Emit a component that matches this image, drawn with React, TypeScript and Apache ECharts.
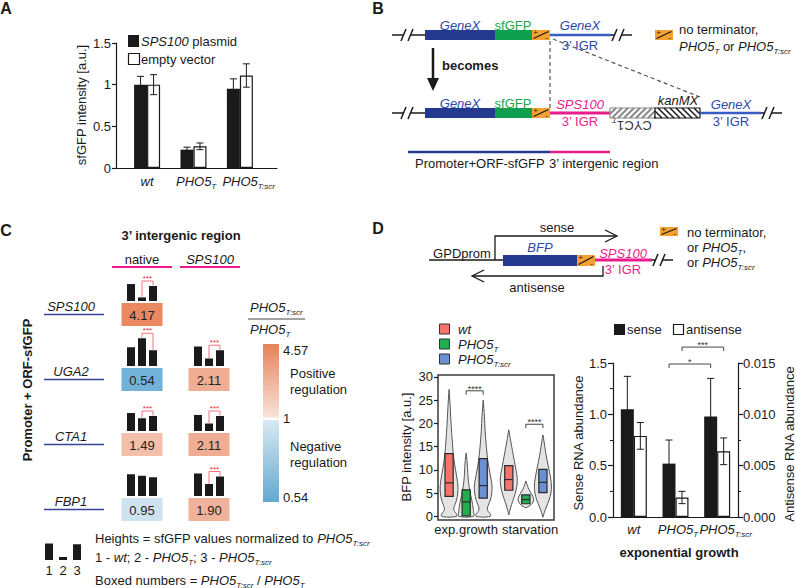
import React, { useEffect, useRef } from 'react';
import * as echarts from 'echarts';

const FF = '"Liberation Sans", Arial, Helvetica, sans-serif';
const INK = '#1a1a1a';
const BLUE_BOX = '#253a8f';
const BLUE_TXT = '#2c4aa8';
const BLUE_LINE = '#3a5cc2';
const GREEN_BOX = '#0f9e4f';
const GREEN_TXT = '#19a64c';
const PINK = '#ec1b8b';
const ORANGE = '#f5a132';
const STAR_RED = '#e8262f';
const BRACKET = '#f5737c';

// ---------------- Panel A ----------------
const aLabels = ['wt', 'PHO5T', 'PHO5T:scr'];
const aPositions = [1, 2, 3];
const aPlasmid = [1.0, 0.22, 0.95];
const aPlasmidErr = [0.1, 0.03, 0.12];
const aEmpty = [1.0, 0.26, 1.11];
const aEmptyErr = [0.12, 0.04, 0.14];

// ---------------- Panel C ----------------
const cColumns = ['native', 'SPS100'];
const cRows = ['SPS100', 'UGA2', 'CTA1', 'FBP1'];
const cCellCol = [0, 0, 1, 0, 1, 0, 1];
const cCellRow = [0, 1, 1, 2, 2, 3, 3];
const cRatio = [4.17, 0.54, 2.11, 1.49, 2.11, 0.95, 1.9];
const cHeightWt = [1.13, 1.25, 1.3, 1.2, 1.07, 1.45, 1.5];
const cHeightT = [0.24, 1.85, 0.5, 0.85, 0.5, 1.35, 0.8];
const cHeightScr = [1.0, 1.05, 1.05, 1.0, 1.0, 1.25, 1.3];
const cSignificant = [1, 1, 1, 1, 1, 0, 1];
const cScale = [0.54, 1, 4.57];
const cLegendHeights = [1.1, 0.2, 1.05];

// ---------------- Panel D (violins) ----------------
const dStrains = ['wt', 'PHO5T', 'PHO5T:scr'];
const dStrainColors = ['#f4746c', '#22ae4c', '#6b91d2'];
const dConditions = ['exp.growth', 'starvation'];
const dConditionPositions = [2, 5.75];
const dPositions = [1, 2, 3, 4.5, 5.5, 6.5];
const dQ1 = [4.3, 0.1, 3.9, 5.6, 2.7, 5.1];
const dMedian = [7.2, 3.1, 6.6, 7.9, 3.6, 7.3];
const dQ3 = [13.5, 5.7, 12.4, 10.9, 4.6, 10.1];
const dViolinWtExp = [[-0.2, 0], [0, 0.44], [0.5, 0.44], [1.0, 0.33], [1.5, 0.27], [2.3, 0.32], [3.5, 0.44], [5, 0.51], [6.5, 0.52], [8, 0.47], [10, 0.38], [12, 0.29], [14, 0.23], [16, 0.19], [18, 0.15], [21, 0.1], [24, 0.06], [27.3, 0]];
const dViolinTExp = [[-0.2, 0], [0, 0.45], [0.6, 0.45], [1.5, 0.42], [2.5, 0.38], [3.5, 0.33], [4.5, 0.27], [5.8, 0.2], [7, 0.15], [8.5, 0.11], [10.5, 0.08], [12, 0.05], [13.6, 0]];
const dViolinScrExp = [[-0.2, 0], [0, 0.42], [0.5, 0.42], [1.0, 0.3], [1.6, 0.24], [2.4, 0.3], [3.5, 0.42], [5, 0.5], [6.5, 0.52], [8, 0.46], [10, 0.36], [12, 0.27], [14, 0.21], [16, 0.16], [18.5, 0.11], [21.5, 0.07], [25, 0]];
const dViolinWtStarv = [[0.3, 0], [1.2, 0.06], [2.5, 0.16], [4, 0.3], [5.5, 0.42], [7, 0.49], [8.5, 0.49], [10, 0.42], [12, 0.32], [14, 0.22], [16, 0.12], [17.5, 0.05], [18.6, 0]];
const dViolinTStarv = [[1.8, 0], [2.2, 0.2], [2.8, 0.38], [3.5, 0.46], [4.2, 0.42], [5, 0.3], [5.8, 0.18], [6.6, 0.09], [7.6, 0]];
const dViolinScrStarv = [[-0.2, 0], [0.8, 0.08], [2, 0.2], [3.5, 0.36], [5, 0.47], [6.5, 0.5], [8, 0.46], [10, 0.36], [12, 0.25], [14, 0.15], [16, 0.07], [17.5, 0]];
const dViolins = [dViolinWtExp, dViolinTExp, dViolinScrExp, dViolinWtStarv, dViolinTStarv, dViolinScrStarv];
const dYTicks = [0, 5, 10, 15, 20, 25, 30];
const dSigFrom = [2, 5.5];
const dSigTo = [3, 6.5];
const dSigLevel = [27.0, 19.8];
const dSigText = ['****', '****'];

// ---------------- Panel D (RNA) ----------------
const rnaLabels = ['wt', 'PHO5T', 'PHO5T:scr'];
const rnaSense = [1.05, 0.52, 0.98];
const rnaSenseErr = [0.32, 0.23, 0.37];
const rnaAnti = [0.0079, 0.0019, 0.0064];
const rnaAntiErr = [0.0013, 0.0006, 0.0013];
const rnaSigFrom = [1, 1];
const rnaSigTo = [2, 2];
const rnaSigLevel = [1.49, 1.655];
const rnaSigText = ['*', '***'];
const rnaSigSide = [-1, 1];

// ---------------- helpers ----------------
function mix(a: string, b: string, t: number) {
  const pa = [1, 3, 5].map((k) => parseInt(a.slice(k, k + 2), 16));
  const pb = [1, 3, 5].map((k) => parseInt(b.slice(k, k + 2), 16));
  const c = pa.map((v, k) => Math.round(v + (pb[k] - v) * Math.max(0, Math.min(1, t))));
  return 'rgb(' + c.join(',') + ')';
}
const POS_LOW = '#f8e3da';
const POS_HIGH = '#e8825a';
const NEG_LOW = '#d9e9f2';
const NEG_HIGH = '#72b2d8';
function ratioColor(r: number) {
  if (r >= cScale[1]) return mix(POS_LOW, POS_HIGH, Math.pow((r - cScale[1]) / (cScale[2] - cScale[1]), 0.5));
  return mix(NEG_LOW, NEG_HIGH, (cScale[1] - r) / (cScale[1] - cScale[0]));
}

function richName(name: string) {
  const m = name.match(/^PHO5(T.*)$/);
  if (m) return '{i|PHO5}{s|' + m[1] + '}';
  return '{i|' + name + '}';
}
// axis labels: the main "PHO5" part is centred on the tick, the subscript hangs to the right
function axisName(name: string) {
  const m = name.match(/^PHO5(T.*)$/);
  if (m) return '{' + (m[1].length > 1 ? 'pl' : 'ps') + '|PHO5}{s|' + m[1] + '}';
  return '{i|' + name + '}';
}
function axisRich(size: number) {
  const sub = Math.round(size * 0.62);
  const base = { fontStyle: 'italic', fontSize: size, fontFamily: FF, color: INK, lineHeight: size + 5 };
  return {
    i: base,
    ps: { ...base, padding: [0, 0, 0, 5] },
    pl: { ...base, padding: [0, 0, 0, 17] },
    s: { fontStyle: 'italic', fontSize: sub, fontFamily: FF, color: INK, lineHeight: sub, verticalAlign: 'bottom' },
  };
}

function gText(x: number, y: number, text: string, o: any = {}) {
  const size = o.size ?? 13;
  const color = o.color ?? INK;
  const style: any = {
    text, fill: color, fontSize: size, fontFamily: FF,
    fontStyle: o.italic ? 'italic' : 'normal',
    fontWeight: o.bold ? 'bold' : 'normal',
    textAlign: o.align ?? 'left', textVerticalAlign: 'middle',
  };
  if (o.rich) {
    style.lineHeight = size + 5;
    style.rich = {
      i: { fontStyle: 'italic', fontSize: size, fontFamily: FF, fill: color, lineHeight: size + 5 },
      s: { fontStyle: 'italic', fontSize: Math.round(size * 0.62), fontFamily: FF, fill: color, lineHeight: Math.round(size * 0.62), verticalAlign: 'bottom' },
    };
  }
  return { type: 'text', x, y, rotation: o.rot ?? 0, silent: true, z: 10, style };
}
function gLine(x1: number, y1: number, x2: number, y2: number, color = INK, w = 1, dash?: number[]) {
  return { type: 'line', silent: true, z: 10, shape: { x1, y1, x2, y2 }, style: { stroke: color, lineWidth: w, lineDash: dash } };
}
function gRect(x: number, y: number, w: number, h: number, fill: any, stroke?: string, lw = 1) {
  return { type: 'rect', silent: true, z: 10, shape: { x, y, width: w, height: h }, style: { fill, stroke: stroke ?? 'none', lineWidth: stroke ? lw : 0 } };
}
function gPolyline(points: number[][], color = INK, w = 1) {
  return { type: 'polyline', silent: true, z: 10, shape: { points }, style: { stroke: color, lineWidth: w, fill: 'none' } };
}
function gPolygon(points: number[][], fill: string) {
  return { type: 'polygon', silent: true, z: 10, shape: { points }, style: { fill } };
}
function term(x: number, y: number, w: number, h: number) {
  return [
    gRect(x, y, w, h, ORANGE),
    gLine(x + 1.5, y + h - 1.5, x + w - 1.5, y + 1.5, INK, 1.2),
    gText(x + 3.5, y + 2.8, '+', { size: 8, align: 'center' }),
    gText(x + w - 3.5, y + h - 2.6, '-', { size: 8, align: 'center' }),
  ];
}
function brk(xc: number, y: number) {
  return [
    gRect(xc - 3, y - 3, 6, 6, '#ffffff'),
    gLine(xc - 6, y + 6, xc - 1, y - 6, INK, 1.5),
    gLine(xc + 1, y + 6, xc + 6, y - 6, INK, 1.5),
  ];
}
function hatch(x0: number, y0: number, w: number, h: number, color: string, lw: number, dir: number, step: number) {
  const els: any[] = [gRect(x0, y0, w, h, '#ffffff')];
  for (let t = x0 - h; t < x0 + w; t += step) {
    let xa = t, ya = y0 + h, xb = t + h, yb = y0;
    if (xa < x0) { ya -= x0 - xa; xa = x0; }
    if (xb > x0 + w) { yb += xb - (x0 + w); xb = x0 + w; }
    if (xb <= xa) continue;
    if (dir < 0) { xa = 2 * x0 + w - xa; xb = 2 * x0 + w - xb; }
    els.push(gLine(xa, ya, xb, yb, color, lw));
  }
  els.push(gRect(x0, y0, w, h, 'none', color, 1.2));
  return els;
}

function errorSeries(xi: number, yi: number, xs: number[], vals: number[], errs: number[], dx: number) {
  return {
    type: 'custom', xAxisIndex: xi, yAxisIndex: yi, silent: true, z: 5,
    data: vals.map((v, i) => [xs[i], v - errs[i], v + errs[i]]),
    renderItem: (params: any, api: any) => {
      const lo = api.coord([api.value(0), api.value(1)]);
      const hi = api.coord([api.value(0), api.value(2)]);
      const x = lo[0] + dx;
      const st = { stroke: INK, lineWidth: 1 };
      return {
        type: 'group', children: [
          { type: 'line', shape: { x1: x, y1: lo[1], x2: x, y2: hi[1] }, style: st },
          { type: 'line', shape: { x1: x - 3.5, y1: hi[1], x2: x + 3.5, y2: hi[1] }, style: st },
          { type: 'line', shape: { x1: x - 3.5, y1: lo[1], x2: x + 3.5, y2: lo[1] }, style: st },
        ],
      };
    },
  };
}

function sigSeries(xi: number, yi: number, from: number[], to: number[], level: number[], text: string[], dxs: number[], size: number) {
  return {
    type: 'custom', xAxisIndex: xi, yAxisIndex: yi, silent: true, z: 6,
    data: from.map((f, i) => [f, to[i], level[i]]),
    renderItem: (params: any, api: any) => {
      const i = params.dataIndex;
      const a = api.coord([api.value(0), api.value(2)]);
      const b = api.coord([api.value(1), api.value(2)]);
      const xa = a[0] + dxs[i], xb = b[0] + dxs[i], y = a[1];
      return {
        type: 'group', children: [
          { type: 'polyline', shape: { points: [[xa, y + 4], [xa, y], [xb, y], [xb, y + 4]] }, style: { stroke: '#333', lineWidth: 0.9, fill: 'none' } },
          { type: 'text', x: (xa + xb) / 2, y: y - 2, style: { text: text[i], fontSize: size, fontFamily: FF, fill: '#333', textAlign: 'center', textVerticalAlign: 'middle' } },
        ],
      };
    },
  };
}

// panel-A axis geometry (shared by grid, axis and the category labels)
const A_LEFT = 116, A_TOP = 43, A_W = 161, A_H = 125, A_MIN = 0.33, A_MAX = 3.8;

function buildOption() {
  const BAR_UNIT = 15;
  const graphics: any[] = [];
  const push = (...els: any[]) => els.forEach((e) => (Array.isArray(e) ? graphics.push(...e) : graphics.push(e)));

  // ---------- Panel A ----------
  push(gText(6, 8, 'A', { bold: true, size: 16, align: 'center' }));
  push(gText(81, 105, 'sfGFP intensity [a.u.]', { rot: Math.PI / 2, align: 'center' }));
  push(gRect(128, 35, 11, 12, INK), gText(141, 41, '{i|SPS100} plasmid', { rich: true }));
  push(gRect(128.5, 53.5, 11, 11, '#ffffff', INK, 1.2), gText(141, 59, 'empty vector'));
  aLabels.forEach((lab, k) => {
    const xc = A_LEFT + ((aPositions[k] - A_MIN) / (A_MAX - A_MIN)) * A_W;
    const m = lab.match(/^PHO5(T.*)$/);
    if (m) {
      // centre the "PHO5" part on the group, subscript hanging to the right
      push(gText(xc - 17.5, A_TOP + A_H + 13, '{i|PHO5}{s|' + m[1] + '}', { rich: true, align: 'left' }));
    } else {
      push(gText(xc, A_TOP + A_H + 13, '{i|' + lab + '}', { rich: true, align: 'center' }));
    }
  });

  // ---------- Panel B ----------
  push(gText(378, 8, 'B', { bold: true, size: 16, align: 'center' }));
  push(gLine(392, 35, 425, 35, INK, 1.5), brk(407, 35));
  push(gRect(425, 30, 70, 10, BLUE_BOX), gRect(495, 30, 37, 10, GREEN_BOX), term(532, 30, 18, 10));
  push(gLine(550, 35, 611, 35, BLUE_LINE, 2.5), gLine(611, 35, 632, 35, INK, 1.5), brk(618, 35));
  push(gText(460, 25, 'GeneX', { italic: true, color: BLUE_TXT, align: 'center' }));
  push(gText(513, 25, 'sfGFP', { color: GREEN_TXT, align: 'center' }));
  push(gText(580, 25, 'GeneX', { italic: true, color: BLUE_TXT, align: 'center' }));
  push(gText(580, 45, '3’ IGR', { color: BLUE_TXT, align: 'center' }));
  push(term(655, 30, 18, 10), gText(679, 29, 'no terminator,'), gText(679, 46, '{i|PHO5}{s|T} or {i|PHO5}{s|T:scr}', { rich: true }));
  push(gLine(433, 48, 433, 80, INK, 2.5), gPolygon([[427, 78], [439, 78], [433, 91]], INK));
  push(gText(442, 65, 'becomes', { bold: true }));
  push(gLine(550, 41, 550, 108, '#555', 1.2, [4, 3]), gLine(553, 39, 700, 97, '#555', 1.2, [4, 3]));
  push(gLine(392, 113, 425, 113, INK, 1.5), brk(407, 113));
  push(gRect(425, 108, 70, 10, BLUE_BOX), gRect(495, 108, 37, 10, GREEN_BOX), term(532, 108, 18, 10));
  push(gLine(550, 113, 610, 113, PINK, 3));
  push(hatch(610, 108, 45, 10, '#8a8a8a', 2, 1, 6), hatch(655, 108, 45, 10, INK, 1.5, -1, 6));
  push(gLine(700, 113, 761, 113, BLUE_LINE, 2.5), gLine(761, 113, 782, 113, INK, 1.5), brk(768, 113));
  push(gText(460, 103, 'GeneX', { italic: true, color: BLUE_TXT, align: 'center' }));
  push(gText(513, 103, 'sfGFP', { color: GREEN_TXT, align: 'center' }));
  push(gText(580, 104, 'SPS100', { italic: true, color: PINK, align: 'center' }));
  push(gText(580, 121, '3’ IGR', { color: PINK, align: 'center' }));
  push(gText(632, 125, 'CYC1{s|T}', { rich: true, rot: Math.PI, align: 'center', color: '#333' }));
  push(gText(678, 100, 'kanMX', { italic: true, align: 'center' }));
  push(gText(731, 104, 'GeneX', { italic: true, color: BLUE_TXT, align: 'center' }));
  push(gText(731, 121, '3’ IGR', { color: BLUE_TXT, align: 'center' }));
  push(gLine(408, 152, 550, 152, BLUE_BOX, 2.5), gLine(550, 152, 610, 152, PINK, 2.5));
  push(gText(415, 163, 'Promoter+ORF-sfGFP'), gText(549, 163, '3’ intergenic region'));

  // ---------- Panel C ----------
  const rowTop = 282, rowStep = 65;
  push(gText(6, 230, 'C', { bold: true, size: 16, align: 'center' }));
  push(gText(181, 235, '3’ intergenic region', { bold: true, align: 'center' }));
  push(gText(142, 259, cColumns[0], { align: 'center' }), gLine(112, 267, 172, 267, PINK, 2));
  push(gText(210, 259, cColumns[1], { italic: true, align: 'center' }), gLine(180, 267, 240, 267, PINK, 2));
  cRows.forEach((r, k) => {
    const yc = rowTop + rowStep * (k + 0.5);
    push(gText(71, yc - 8, r, { italic: true, align: 'center' }), gLine(44, yc, 104, yc, '#37449e', 1.5));
  });
  push(gText(27, 390, 'Promoter + ORF-sfGFP', { bold: true, rot: Math.PI / 2, align: 'center' }));
  push(gText(250, 307, '{i|PHO5}{s|T:scr}', { rich: true }), gLine(248, 319, 305, 319, '#444', 1), gText(250, 329, '{i|PHO5}{s|T}', { rich: true }));
  push(gRect(263, 344, 16, 73.5, new echarts.graphic.LinearGradient(0, 0, 0, 1, [{ offset: 0, color: POS_HIGH }, { offset: 1, color: POS_LOW }])));
  push(gRect(263, 420, 16, 82, new echarts.graphic.LinearGradient(0, 0, 0, 1, [{ offset: 0, color: NEG_LOW }, { offset: 1, color: '#62a8d0' }])));
  push(gText(283, 350, cScale[2].toFixed(2)), gText(290, 373, 'Positive'), gText(290, 389, 'regulation'));
  push(gText(283, 418, String(cScale[1])), gText(290, 446, 'Negative'), gText(290, 462, 'regulation'));
  push(gText(283, 497, cScale[0].toFixed(2)));
  cLegendHeights.forEach((h, k) => {
    const x = 45 + k * 14;
    push(gRect(x, 560 - h * BAR_UNIT, 8, h * BAR_UNIT, INK), gText(x + 4, 570, String(k + 1), { align: 'center' }));
  });
  push(gText(95, 538, 'Heights = sfGFP values normalized to {i|PHO5}{s|T:scr}', { rich: true }));
  push(gText(95, 557, '1 - {i|wt}; 2 - {i|PHO5}{s|T}; 3 - {i|PHO5}{s|T:scr}', { rich: true }));
  push(gText(95, 580, 'Boxed numbers = {i|PHO5}{s|T:scr} / {i|PHO5}{s|T}', { rich: true }));

  // ---------- Panel D ----------
  push(gText(378, 228, 'D', { bold: true, size: 16, align: 'center' }));
  push(gLine(429, 260, 503, 260, INK, 1.5), gText(462, 253, 'GPDprom', { align: 'center' }));
  push(gRect(503, 255, 74, 11, BLUE_BOX), term(577, 255, 18, 11));
  push(gLine(595, 260, 652, 260, PINK, 3), gLine(652, 260, 673, 260, INK, 1.5), brk(659, 260));
  push(gPolyline([[495, 260], [495, 236], [617, 236]], INK, 1.3), gPolyline([[605, 230], [617, 236], [605, 242]], INK, 1.3));
  push(gText(557, 227, 'sense', { align: 'center' }));
  push(gPolyline([[603, 266], [603, 276], [472, 276]], INK, 1.3), gPolyline([[484, 270], [472, 276], [484, 282]], INK, 1.3));
  push(gText(537, 287, 'antisense', { align: 'center' }));
  push(gText(540, 247, 'BFP', { italic: true, color: BLUE_TXT, align: 'center' }));
  push(gText(623, 253, 'SPS100', { italic: true, color: PINK, align: 'center' }));
  push(gText(623, 269, '3’ IGR', { color: PINK, align: 'center' }));
  push(term(660, 227, 18, 9), gText(687, 232, 'no terminator,'));
  push(gText(687, 247, 'or {i|PHO5}{s|T},', { rich: true }), gText(687, 262, 'or {i|PHO5}{s|T:scr}', { rich: true }));
  dStrains.forEach((s, k) => {
    const yc = 329 + k * 15;
    push(gRect(439.5, yc - 5, 10, 10, dStrainColors[k], '#333', 1), gText(458, yc, richName(s), { rich: true }));
  });
  push(gText(406, 447, 'BFP intensity [a.u.]', { rot: Math.PI / 2, align: 'center' }));
  push(gRect(614, 324, 11, 11, INK), gText(627, 329.5, 'sense'));
  push(gRect(673.5, 324.5, 10, 10, '#ffffff', INK, 1.2), gText(686, 329.5, 'antisense'));
  push(gText(578, 443, 'Sense RNA abundance', { rot: Math.PI / 2, align: 'center' }));
  push(gText(789, 444, 'Antisense RNA abundance', { rot: Math.PI / 2, align: 'center' }));
  push(gText(679, 552, 'exponential growth', { bold: true, align: 'center' }));

  const axLine = { show: true, onZero: false, lineStyle: { color: INK, width: 1.2 } };
  const axTick = { show: true, length: 4, lineStyle: { color: INK, width: 1.2 } };
  const axLabel = { fontSize: 13, fontFamily: FF, color: INK };

  return {
    animation: false,
    backgroundColor: '#ffffff',
    textStyle: { fontFamily: FF },
    grid: [
      { left: A_LEFT, top: A_TOP, width: A_W, height: A_H },
      { left: 108.5, top: rowTop, width: 134, height: rowStep * 4 },
      { left: 438, top: 375, width: 116, height: 145, show: true, borderColor: '#3a3a3a', borderWidth: 1.5 },
      { left: 613, top: 363, width: 125, height: 154 },
    ],
    xAxis: [
      {
        gridIndex: 0, type: 'value', min: A_MIN, max: A_MAX, axisLine: axLine, axisTick: { show: false }, splitLine: { show: false },
        axisLabel: { show: false },
      },
      { gridIndex: 1, type: 'category', data: cColumns, show: false },
      {
        gridIndex: 2, type: 'value', min: 0.35, max: 7.15, axisLine: { show: false }, axisTick: { show: false }, splitLine: { show: false },
        axisLabel: { ...axLabel, margin: 3, hideOverlap: false, customValues: dConditionPositions, formatter: (v: number) => dConditions[dConditionPositions.indexOf(v)] ?? '' },
      },
      {
        gridIndex: 3, type: 'category', data: rnaLabels, axisLine: axLine, axisTick: { show: false },
        axisLabel: { ...axLabel, margin: 3, interval: 0, hideOverlap: false, formatter: (v: string) => axisName(v), rich: axisRich(13) },
      },
    ],
    yAxis: [
      {
        gridIndex: 0, type: 'value', min: 0, max: 1.5, interval: 0.5, axisLine: axLine, axisTick: axTick, splitLine: { show: false },
        axisLabel: { ...axLabel, margin: 5, formatter: (v: number) => String(v) },
      },
      { gridIndex: 1, type: 'category', data: cRows, inverse: true, show: false },
      {
        gridIndex: 2, type: 'value', min: -0.8, max: 30.4, axisLine: { show: false }, splitLine: { show: false },
        axisTick: { ...axTick, customValues: dYTicks }, axisLabel: { ...axLabel, margin: 5, customValues: dYTicks },
      },
      {
        gridIndex: 3, type: 'value', min: 0, max: 1.5, interval: 0.5, axisLine: axLine, axisTick: { ...axTick, length: 5 }, splitLine: { show: false },
        minorTick: { show: true, splitNumber: 2, length: 3, lineStyle: { color: INK } }, minorSplitLine: { show: false },
        axisLabel: { ...axLabel, margin: 6, formatter: (v: number) => v.toFixed(1) },
      },
      {
        gridIndex: 3, type: 'value', position: 'right', min: 0, max: 0.015, interval: 0.005, axisLine: axLine, axisTick: { ...axTick, length: 5 }, splitLine: { show: false },
        minorTick: { show: true, splitNumber: 2, length: 3, lineStyle: { color: INK } }, minorSplitLine: { show: false },
        axisLabel: { ...axLabel, margin: 5, formatter: (v: number) => v.toFixed(3) },
      },
    ],
    series: [
      { name: 'SPS100 plasmid', type: 'bar', xAxisIndex: 0, yAxisIndex: 0, data: aPositions.map((p, i) => [p, aPlasmid[i]]), barWidth: 13, barGap: '0%', itemStyle: { color: INK } },
      { name: 'empty vector', type: 'bar', xAxisIndex: 0, yAxisIndex: 0, data: aPositions.map((p, i) => [p, aEmpty[i]]), barWidth: 13, barGap: '0%', itemStyle: { color: '#ffffff', borderColor: INK, borderWidth: 1.2 } },
      errorSeries(0, 0, aPositions, aPlasmid, aPlasmidErr, -6.5),
      errorSeries(0, 0, aPositions, aEmpty, aEmptyErr, 6.5),
      {
        type: 'custom', xAxisIndex: 1, yAxisIndex: 1, silent: true,
        data: cRatio.map((r, i) => [cCellCol[i], cCellRow[i], r]),
        renderItem: (params: any, api: any) => {
          const i = params.dataIndex;
          const c = api.coord([api.value(0), api.value(1)]);
          const cx = c[0], cy = c[1];
          const ratio = api.value(2);
          const ch: any[] = [];
          ch.push({ type: 'rect', shape: { x: cx - 20.5, y: cy - 11.5, width: 41, height: 23 }, style: { fill: ratioColor(ratio) } });
          ch.push({ type: 'text', x: cx, y: cy + 0.5, style: { text: ratio.toFixed(2), fontSize: 13, fontFamily: FF, fill: '#222', textAlign: 'center', textVerticalAlign: 'middle' } });
          const hs = [cHeightWt[i], cHeightT[i], cHeightScr[i]];
          const base = cy - 13.5;
          const tops: number[] = [];
          hs.forEach((h, k) => {
            const x = cx + (k - 1) * 11 - 4;
            const hp = h * BAR_UNIT;
            tops.push(base - hp);
            ch.push({ type: 'rect', shape: { x, y: base - hp, width: 8, height: hp }, style: { fill: INK } });
          });
          if (cSignificant[i]) {
            const yb = Math.min(tops[1], tops[2]) - 5;
            const x2 = cx, x3 = cx + 11;
            ch.push({ type: 'polyline', shape: { points: [[x2, tops[1] - 0.5], [x2, yb], [x3, yb], [x3, tops[2] - 0.5]] }, style: { stroke: BRACKET, lineWidth: 1, fill: 'none' } });
            ch.push({ type: 'text', x: (x2 + x3) / 2, y: yb - 2.5, style: { text: '***', fontSize: 8, fontFamily: FF, fill: STAR_RED, textAlign: 'center', textVerticalAlign: 'middle' } });
          }
          return { type: 'group', children: ch };
        },
      },
      {
        type: 'custom', xAxisIndex: 2, yAxisIndex: 2, silent: true,
        data: dPositions.map((p, i) => [p, dQ1[i], dQ3[i]]),
        renderItem: (params: any, api: any) => {
          const idx = params.dataIndex;
          const p = api.value(0);
          const unit = api.size([1, 0])[0];
          const prof = dViolins[idx];
          const pts: number[][] = [];
          prof.forEach(([v, w]) => { const c = api.coord([p, v]); pts.push([c[0] + w * unit, c[1]]); });
          for (let k = prof.length - 1; k >= 0; k--) { const [v, w] = prof[k]; const c = api.coord([p, v]); pts.push([c[0] - w * unit, c[1]]); }
          const q1 = api.coord([p, dQ1[idx]]);
          const q3 = api.coord([p, dQ3[idx]]);
          const md = api.coord([p, dMedian[idx]]);
          const bw = 0.24 * unit;
          return {
            type: 'group', children: [
              { type: 'polygon', shape: { points: pts, smooth: 0.3 }, style: { fill: '#e4e4e4', stroke: '#555', lineWidth: 1 } },
              { type: 'rect', shape: { x: q1[0] - bw, y: q3[1], width: 2 * bw, height: q1[1] - q3[1] }, style: { fill: dStrainColors[idx % 3], stroke: '#2a2a2a', lineWidth: 1.2 } },
              { type: 'line', shape: { x1: md[0] - bw, y1: md[1], x2: md[0] + bw, y2: md[1] }, style: { stroke: '#2a2a2a', lineWidth: 1.2 } },
            ],
          };
        },
      },
      sigSeries(2, 2, dSigFrom, dSigTo, dSigLevel, dSigText, [0, 0], 9),
      { name: 'sense', type: 'bar', xAxisIndex: 3, yAxisIndex: 3, data: rnaSense, barWidth: 13, barGap: '0%', itemStyle: { color: INK } },
      { name: 'antisense', type: 'bar', xAxisIndex: 3, yAxisIndex: 4, data: rnaAnti, barWidth: 13, barGap: '0%', itemStyle: { color: '#ffffff', borderColor: INK, borderWidth: 1.2 } },
      errorSeries(3, 3, [0, 1, 2], rnaSense, rnaSenseErr, -6.5),
      errorSeries(3, 4, [0, 1, 2], rnaAnti, rnaAntiErr, 6.5),
      sigSeries(3, 3, rnaSigFrom, rnaSigTo, rnaSigLevel, rnaSigText, rnaSigSide.map((s) => s * 6.5), 9),
    ],
    graphic: { elements: graphics },
  };
}

export default function App() {
  const ref = useRef<HTMLDivElement>(null);
  useEffect(() => {
    if (!ref.current) return;
    const chart = echarts.init(ref.current, null, { renderer: 'svg' });
    chart.setOption(buildOption() as any);
    return () => chart.dispose();
  }, []);
  return <div ref={ref} style={{ position: 'absolute', left: 0, top: 0, width: 796, height: 588, background: '#fff' }} />;
}
